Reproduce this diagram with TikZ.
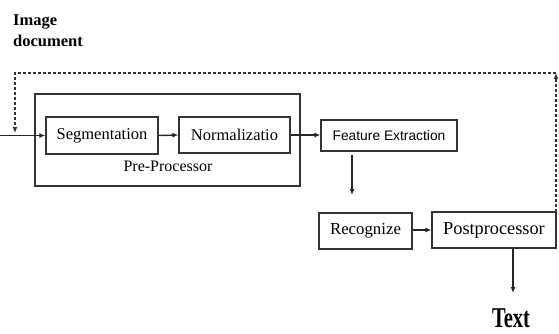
\documentclass[tikz,border=0pt]{standalone}
\usepackage{fontspec}
\setmainfont{Liberation Serif}
\newfontfamily\arialish{Liberation Sans}
\usetikzlibrary{arrows.meta}
\tikzset{
  box/.style={draw=black!80, line width=1.3pt, inner sep=0pt, anchor=center},
  stage/.style={box, font=\fontsize{16.5}{16.5}\selectfont},
  flow/.style={draw=black!85, line width=1.4pt, -{Latex[length=6pt,width=5pt]}},
  feedback/.style={draw=black!80, line width=1.2pt, dash pattern=on 3pt off 2pt},
  tip/.style={-{Latex[length=6pt,width=5pt]}}
}
\begin{document}
\begin{tikzpicture}[x=1pt,y=-1pt]
  \useasboundingbox (0,0) rectangle (559,333);

  % pre-processor frame and its two stages
  \node[box, minimum width=265pt, minimum height=92pt] (pre) at (167.5,140) {};
  \node[stage, minimum width=112pt, minimum height=37pt] (seg) at (102,135.5) {Segmentation};
  \node[stage, minimum width=111pt, minimum height=36pt] (norm) at (234.5,135) {Normalizatio};
  \node[font=\fontsize{16}{16}\selectfont] (prelabel) at (168,166) {Pre-Processor};

  % later stages
  \node[box, minimum width=136pt, minimum height=31pt, font=\arialish\fontsize{13.8}{13.8}\selectfont] (feat) at (389,135.5) {Feature Extraction};
  \node[stage, minimum width=93pt, minimum height=36pt, font=\fontsize{16.8}{16.8}\selectfont] (rec) at (365.5,231) {Recognize};
  \node[stage, minimum width=124pt, minimum height=36pt, font=\fontsize{18.3}{18.3}\selectfont] (post) at (494,230) {Postprocessor};

  % input and output labels
  \node[anchor=north west, align=left, inner sep=0pt, font=\bfseries\fontsize{16.5}{21}\selectfont] (img) at (13,14) {Image\\document};
  \node[font=\bfseries\fontsize{20.5}{20.5}\selectfont] (txt) at (511,318) {\scalebox{1}[1.4]{Text}};

  % helper points
  \coordinate (inStart) at (0,135.5);
  \coordinate (fbTopL) at (15,73);
  \coordinate (fbTopR) at (556,73);
  \coordinate (fbBot) at (556,212);
  \coordinate (fbEnd) at (15,133);
  \coordinate (featDown) at (352,155);
  \coordinate (recAbove) at (352,195);
  \coordinate (postDown) at (513,248);
  \coordinate (txtAbove) at (513,293);

  % main flow
  \draw[flow] (inStart) -- (seg.west);
  \draw[flow] (seg.east) -- (norm.west);
  \draw[flow] (norm.east) -- (norm.east -| feat.west);
  \draw[flow] (featDown) -- (recAbove);
  \draw[flow] (rec.east |- post.west) -- (post.west);
  \draw[flow] (postDown) -- (txtAbove);

  % dashed feedback loop
  \draw[feedback, tip] (fbBot) -- (fbTopR);
  \draw[feedback, tip] (fbTopR) -- (fbTopL) -- (fbEnd);
\end{tikzpicture}
\end{document}
